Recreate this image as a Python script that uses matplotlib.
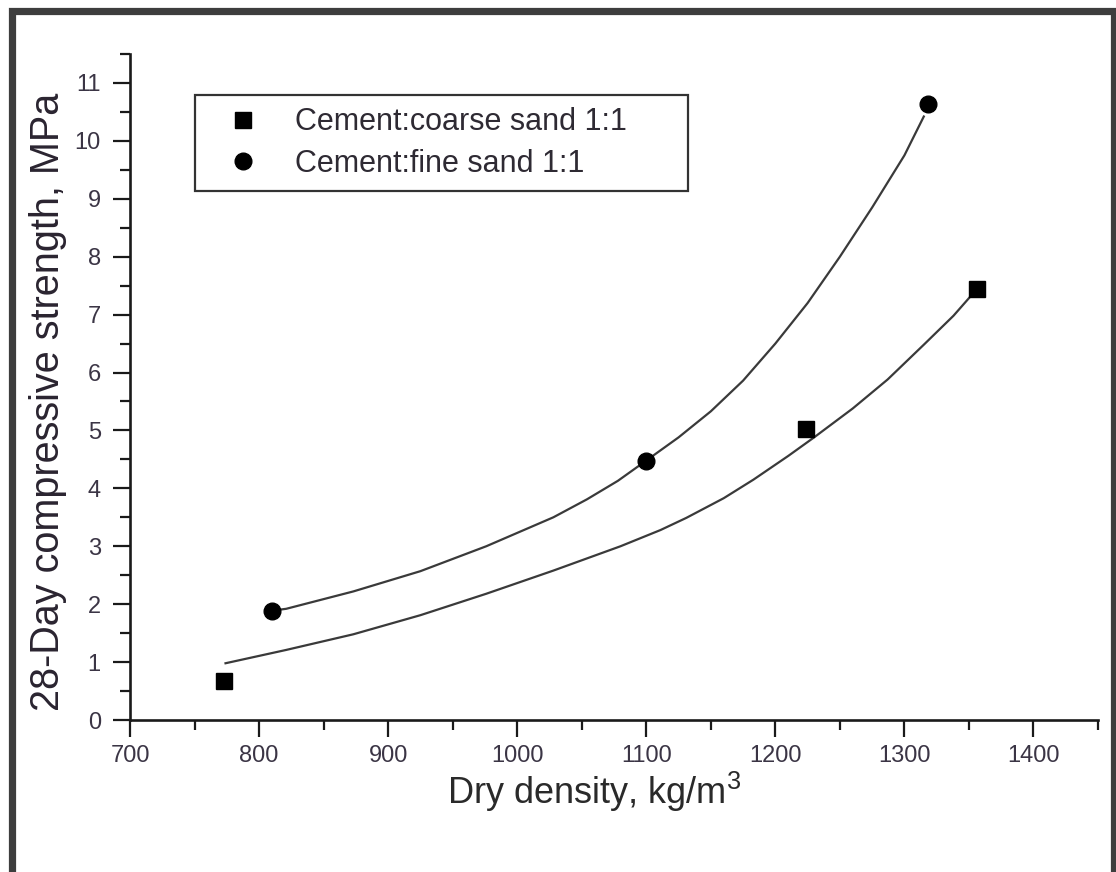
"""Dry density vs 28-day compressive strength, two cement:sand mixes."""

import matplotlib
matplotlib.use("Agg")
import matplotlib.pyplot as plt
from matplotlib.patches import Rectangle
from matplotlib.ticker import MultipleLocator

plt.rcParams['font.family'] = ['Liberation Sans', 'DejaVu Sans']
plt.rcParams['mathtext.fontset'] = 'custom'
plt.rcParams['mathtext.rm'] = 'Liberation Sans'
plt.rcParams['mathtext.default'] = 'regular'

# measured points
coarse_density = [773, 1224, 1356]
coarse_strength = [0.68, 5.03, 7.45]
fine_density = [810, 1100, 1318]
fine_strength = [1.88, 4.48, 10.63]

# fitted curves
coarse_fit_x = [774, 821, 873, 925, 976, 1028, 1080, 1111, 1131, 1160, 1183,
                1210, 1230, 1260, 1287, 1315, 1338, 1351]
coarse_fit_y = [0.98, 1.21, 1.48, 1.81, 2.18, 2.58, 3.00, 3.28, 3.49, 3.83, 4.15,
                4.56, 4.88, 5.38, 5.88, 6.48, 6.98, 7.31]
fine_fit_x = [814, 821, 873, 925, 976, 1028, 1054, 1078, 1100, 1125, 1150, 1175,
              1200, 1225, 1250, 1275, 1300, 1315]
fine_fit_y = [1.90, 1.92, 2.22, 2.57, 3.00, 3.50, 3.81, 4.13, 4.48, 4.88, 5.33, 5.86,
              6.50, 7.20, 8.00, 8.85, 9.75, 10.42]

labels = ["Cement:coarse sand 1:1", "Cement:fine sand 1:1"]

fig = plt.figure(figsize=(11.16, 8.72), dpi=100)
ax = fig.add_axes([0.1165, 0.1743, 0.8674, 0.7638])

# dark frame round the whole picture
W, H = 1116, 872
fig.patches.append(Rectangle((11.5 / W, -0.02), (1113.5 - 11.5) / W, 1.02 - 11.5 / H,
                             transform=fig.transFigure, fill=False,
                             edgecolor='#3d3d3d', linewidth=5.2, zorder=10))

line_kw = dict(color='#3a3a3a', lw=1.6, zorder=2)
ax.plot(coarse_fit_x, coarse_fit_y, **line_kw)
ax.plot(fine_fit_x, fine_fit_y, **line_kw)
ax.plot(coarse_density, coarse_strength, ls='none', marker='s', ms=11,
        color='black', label=labels[0], zorder=3)
ax.plot(fine_density, fine_strength, ls='none', marker='o', ms=12,
        color='black', label=labels[1], zorder=3)

ax.set_xlim(700, 1450)
ax.set_ylim(0, 11.5)
ax.xaxis.set_major_locator(MultipleLocator(100))
ax.xaxis.set_minor_locator(MultipleLocator(50))
ax.yaxis.set_major_locator(MultipleLocator(1))
ax.yaxis.set_minor_locator(MultipleLocator(0.5))

for side in ['top', 'right']:
    ax.spines[side].set_visible(False)
for side in ['left', 'bottom']:
    ax.spines[side].set_linewidth(1.9)
    ax.spines[side].set_color('#1a1a1a')

ax.tick_params(which='major', length=12, width=1.6, color='#1a1a1a',
               labelsize=17, labelcolor='#3b3545', pad=6)
ax.tick_params(which='minor', length=7, width=1.6, color='#1a1a1a')
ax.tick_params(axis='y', which='major', pad=9)

ax.set_xlabel("Dry density, kg/m$^3$", fontsize=26, color='#2a2a2a')
ax.set_ylabel("28-Day compressive strength, MPa", fontsize=28.5, color='#2a2430')
ax.xaxis.set_label_coords(0.48, -0.075)
ax.yaxis.set_label_coords(-0.065, 0.477)

leg = ax.legend(loc='upper left', bbox_to_anchor=(0.067, 0.796, 0.509, 0.142),
                mode='expand', fontsize=22, frameon=True, fancybox=False,
                edgecolor='black', borderpad=0.4, labelspacing=0.38,
                handlelength=2.36, handletextpad=0.52, borderaxespad=0)
leg.get_frame().set_linewidth(1.6)
for t in leg.get_texts():
    t.set_color('#2e2a33')

fig.savefig("out.png", dpi=100)
